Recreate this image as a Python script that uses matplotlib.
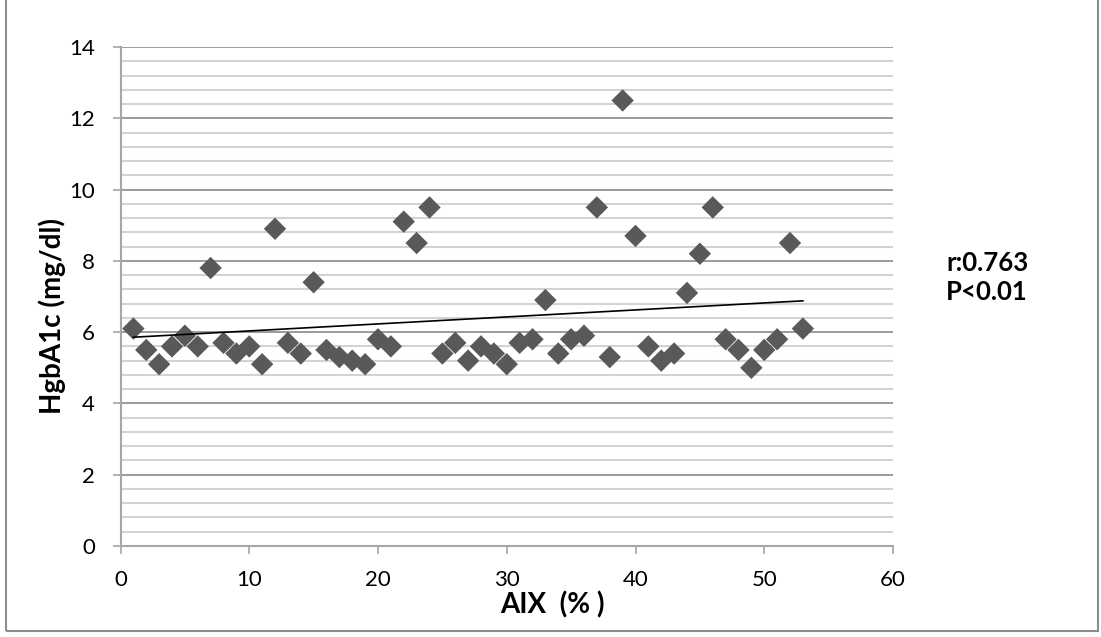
import numpy as np
import matplotlib
matplotlib.use("Agg")
import matplotlib.pyplot as plt
from matplotlib.patches import Rectangle
from matplotlib.ticker import MultipleLocator

aix = list(range(1, 54))
hba1c = [6.1, 5.5, 5.1, 5.6, 5.9, 5.6, 7.8, 5.7, 5.4, 5.6,
         5.1, 8.9, 5.7, 5.4, 7.4, 5.5, 5.3, 5.2, 5.1, 5.8,
         5.6, 9.1, 8.5, 9.5, 5.4, 5.7, 5.2, 5.6, 5.4, 5.1,
         5.7, 5.8, 6.9, 5.4, 5.8, 5.9, 9.5, 5.3, 12.5, 8.7,
         5.6, 5.2, 5.4, 7.1, 8.2, 9.5, 5.8, 5.5, 5.0, 5.5,
         5.8, 8.5, 6.1]
x_label = "AIX  (% )"
y_label = "HgbA1c (mg/dl)"
annot = "r:0.763\nP<0.01"

plt.rcParams['font.family'] = ['Lato', 'DejaVu Sans']

W, H = 1101, 637
fig = plt.figure(figsize=(W/100, H/100), dpi=100)
ax = fig.add_axes([120.5/W, 1-546/H, (893-120.5)/W, (546-47)/H])

ax.set_xlim(0, 60)
ax.set_ylim(0, 14)
ax.xaxis.set_major_locator(MultipleLocator(10))
ax.yaxis.set_major_locator(MultipleLocator(2))
ax.yaxis.set_minor_locator(MultipleLocator(0.4))

ax.grid(True, which='major', axis='y', color='#8a8a8a', lw=1.2, zorder=0)
ax.grid(True, which='minor', axis='y', color='#d3d3d3', lw=1.5, zorder=0)
ax.set_axisbelow(True)

for s in ['top', 'right']:
    ax.spines[s].set_visible(False)
for s in ['left', 'bottom']:
    ax.spines[s].set_color('#a6a6a6')
    ax.spines[s].set_linewidth(1.5)

ax.tick_params(axis='both', which='major', direction='out', length=5.5, width=1.2,
               color='#a6a6a6', labelsize=16, labelcolor='black')
ax.tick_params(axis='y', which='minor', length=0)
ax.tick_params(axis='y', pad=13)
ax.tick_params(axis='x', pad=12)

ax.scatter(aix, hba1c, marker='D', s=130, color='#595959', edgecolors='none', zorder=3)

coef = np.polyfit(aix, hba1c, 1)
xs = np.array([aix[0], aix[-1]])
ax.plot(xs, np.polyval(coef, xs), color='black', lw=1.2, zorder=4)

fig.text(552/W, 1-605/H, x_label, ha='center', va='center', fontsize=20, fontweight='bold')
fig.text(52/W, 1-316/H, y_label, ha='center', va='center', rotation=90, fontsize=20, fontweight='bold')
fig.text(946/W, 1-277/H, annot, ha='left', va='center', fontsize=18.5, fontweight='bold', linespacing=1.25)

fig.patches.append(Rectangle((6/W, 1-631/H), (1098-6)/W, 631/H + 0.01, transform=fig.transFigure,
                             fill=False, edgecolor='#8c8c8c', lw=1.5))

fig.savefig("out.png", dpi=100)
